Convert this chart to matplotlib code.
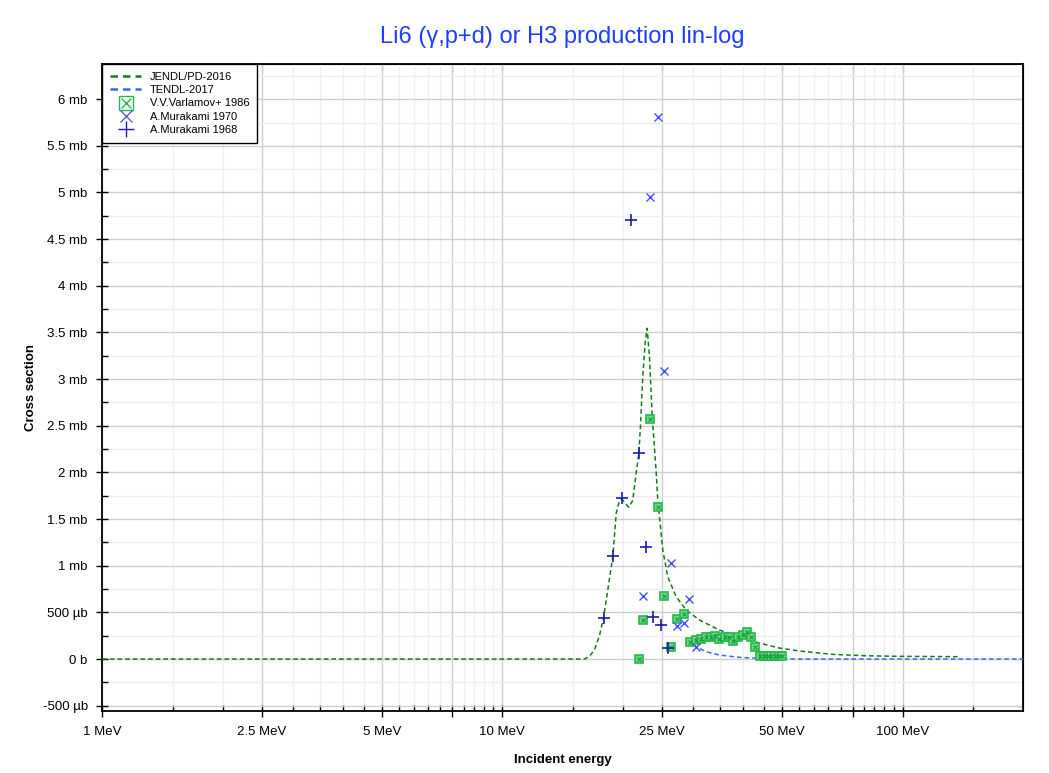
import numpy as np
import matplotlib
matplotlib.use("Agg")
import matplotlib.pyplot as plt
from matplotlib.lines import Line2D
from matplotlib.legend_handler import HandlerTuple

plt.rcParams['font.family'] = ['Liberation Sans', 'DejaVu Sans']

# evaluated curves, energy in MeV, cross section in mb
jendlE = [1, 15.0, 16.04, 16.51, 16.99, 17.48, 17.89, 18.34, 18.88, 19.25, 19.62, 19.93, 20.25, 20.70,
          21.17, 21.60, 21.92, 22.13, 22.43, 22.74, 23.0, 23.31, 23.68, 24.23, 24.45, 24.69, 25.16,
          25.90, 27.18, 28.79, 31.08, 34.85, 39.11, 43.87, 49.22, 55.22, 66.77, 81.0, 98.1, 138.6]
jendlXS = [0, 0, 0, 0.03, 0.10, 0.25, 0.44, 0.74, 1.10, 1.565, 1.70, 1.71, 1.67, 1.626,
           1.70, 2.0, 2.2, 2.49, 3.03, 3.39, 3.545, 3.24, 2.6, 2.0, 1.70, 1.525, 1.17,
           0.88, 0.668, 0.525, 0.418, 0.311, 0.239, 0.171, 0.118, 0.086, 0.05, 0.035, 0.029, 0.025]

tendlE = [30.0, 30.5, 32.3, 34.85, 39.1, 43.9, 49.2, 55.0, 100.0, 200.0]
tendlXS = [0.15, 0.132, 0.078, 0.043, 0.018, 0.007, 0.002, 0, 0, 0]

# experimental data
varlE = [21.9, 22.43, 23.4, 24.45, 25.4, 26.4, 27.3, 28.4, 29.4, 30.4, 31.4, 32.3, 33.2, 33.9,
         34.8, 35.9, 36.9, 37.8, 38.9, 39.9, 40.9, 41.8, 42.9, 44, 45, 46, 47, 48, 49, 50]
varlXS = [0.0, 0.418, 2.575, 1.626, 0.675, 0.132, 0.425, 0.482, 0.182, 0.204, 0.218, 0.232, 0.239, 0.246,
          0.218, 0.239, 0.232, 0.19, 0.232, 0.257, 0.293, 0.239, 0.132, 0.035, 0.035, 0.035, 0.035,
          0.035, 0.035, 0.035]

mur70E = [24.45, 23.4, 25.4, 26.4, 22.4, 29.3, 27.3, 28.4, 30.5]
mur70XS = [5.806, 4.955, 3.087, 1.032, 0.675, 0.646, 0.354, 0.389, 0.125]

mur68E = [20.9, 19.9, 18.9, 17.9, 21.9, 22.9, 23.8, 24.9, 25.9]
mur68XS = [4.705, 1.722, 1.104, 0.443, 2.205, 1.204, 0.454, 0.364, 0.114]

legendLabels = ['JENDL/PD-2016', 'TENDL-2017', 'V.V.Varlamov+ 1986', 'A.Murakami 1970', 'A.Murakami 1968']

xMajor = [1, 2.5, 5, 7.5, 10, 25, 50, 75, 100]
xMajorLabels = ['1 MeV', '2.5 MeV', '5 MeV', '', '10 MeV', '25 MeV', '50 MeV', '', '100 MeV']
xMinor = [1.5, 2, 3, 3.5, 4, 4.5, 5.5, 6, 6.5, 7, 8, 8.5, 9, 9.5, 15, 20, 30, 35, 40, 45,
          55, 60, 65, 70, 80, 85, 90, 95, 150]
yMajor = [-0.5, 0, 0.5, 1, 1.5, 2, 2.5, 3, 3.5, 4, 4.5, 5, 5.5, 6]
yMajorLabels = ['-500 µb', '0 b', '500 µb', '1 mb', '1.5 mb', '2 mb', '2.5 mb', '3 mb', '3.5 mb',
                '4 mb', '4.5 mb', '5 mb', '5.5 mb', '6 mb']

fig = plt.figure(figsize=(10.49, 7.73), dpi=100)
ax = fig.add_axes([0.0975, 0.0802, 0.8777, 0.837])

green = '#137a1e'
lgreen = '#22bb4a'
blue = '#3a66ee'
c70 = '#4a4cff'
c68 = '#1c1ca8'

ax.plot(jendlE, jendlXS, color=green, ls=(0, (3, 2)), lw=1.1, zorder=3)
ax.plot(tendlE, tendlXS, color=blue, ls=(0, (3, 2)), lw=1.1, zorder=3)
ax.plot(varlE, varlXS, 's', ms=5.5, mfc='#6fd68a', mec=lgreen, mew=1.2, ls='none', zorder=4)
ax.plot(varlE, varlXS, 'x', ms=3.5, color='#1a9a3a', mew=0.8, ls='none', zorder=5)
ax.plot(mur70E, mur70XS, 'x', ms=5.5, color=c70, mew=1.0, ls='none', zorder=5)
ax.plot(mur68E, mur68XS, '+', ms=9, color=c68, mew=1.2, ls='none', zorder=5)

ax.set_xscale('log')
ax.set_xlim(1, 200)
ax.set_ylim(-0.557, 6.377)

ax.set_xticks(xMajor)
ax.set_xticklabels(xMajorLabels)
ax.set_xticks(xMinor, minor=True)
ax.set_xticklabels([''] * len(xMinor), minor=True)
ax.set_yticks(yMajor)
ax.set_yticklabels(yMajorLabels)
ax.set_yticks(np.arange(-0.25, 6.3, 0.5), minor=True)

ax.tick_params(which='major', direction='inout', length=9, width=1, labelsize=9.5, pad=6)
ax.tick_params(which='minor', direction='in', length=4, width=1)
ax.grid(which='major', color='#cfcfcf', lw=1.0)
ax.grid(which='minor', color='#efefef', lw=1.0)
ax.set_axisbelow(True)
for s in ax.spines.values():
    s.set_linewidth(1.3)

# ticks on the top and right side, pointing inwards
secx = ax.secondary_xaxis('top')
secx.set_xticks(xMajor)
secx.set_xticklabels([])
secx.set_xticks(xMinor, minor=True)
secx.set_xticklabels([], minor=True)
secx.tick_params(which='major', direction='in', length=5)
secx.tick_params(which='minor', direction='in', length=3)
secy = ax.secondary_yaxis('right')
secy.set_yticks(yMajor)
secy.set_yticklabels([])
secy.set_yticks(np.arange(-0.25, 6.3, 0.5), minor=True)
secy.tick_params(which='major', direction='in', length=5)
secy.tick_params(which='minor', direction='in', length=3)

ax.set_title('Li6 (γ,p+d) or H3 production lin-log', color='#1f3dff', fontsize=17, pad=15)
ax.set_xlabel('Incident energy', fontweight='bold', fontsize=9.5, labelpad=12)
ax.set_ylabel('Cross section', fontweight='bold', fontsize=9.5, labelpad=4)

# legend samples drawn a bit larger than on the plot
hj = Line2D([], [], color=green, ls=(0, (3, 2)), lw=1.8)
ht = Line2D([], [], color=blue, ls=(0, (3, 2)), lw=1.8)
hsq = Line2D([], [], marker='s', ms=10, mfc='none', mec=lgreen, mew=1.0, ls='none')
hsx = Line2D([], [], marker='x', ms=7, color=lgreen, mew=1.0, ls='none')
h70 = Line2D([], [], marker='x', ms=8, color=c70, mew=0.9, ls='none')
h68 = Line2D([], [], marker='+', ms=12, color=c68, mew=1.0, ls='none')

leg = ax.legend([hj, ht, (hsq, hsx), h70, h68], legendLabels,
                handler_map={tuple: HandlerTuple(ndivide=1, pad=0)},
                loc='upper left', bbox_to_anchor=(0, 1), borderaxespad=0, fancybox=False,
                edgecolor='black', framealpha=1, fontsize=8, handlelength=2.8,
                labelspacing=0.3, borderpad=0.7)
leg.get_frame().set_linewidth(1.0)

fig.savefig('out.png', dpi=100)
